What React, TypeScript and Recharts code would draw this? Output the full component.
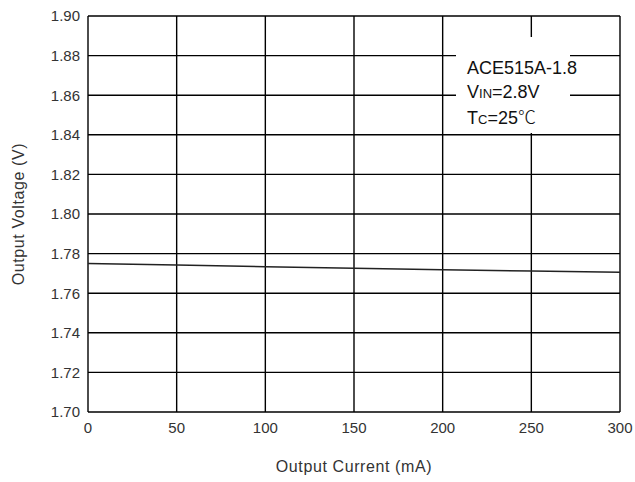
import React from "react";
import {
  LineChart,
  Line,
  XAxis,
  YAxis,
  CartesianGrid,
  Label,
} from "recharts";

const currents = [0, 50, 100, 150, 200, 250, 300];
const voltages = [1.775, 1.7742, 1.7734, 1.7726, 1.7718, 1.7712, 1.7706];
const xTicks = [0, 50, 100, 150, 200, 250, 300];
const yTicks = [1.7, 1.72, 1.74, 1.76, 1.78, 1.8, 1.82, 1.84, 1.86, 1.88, 1.9];
const noteLines = ["ACE515A-1.8", "VIN=2.8V", "TC=25℃"];

const data = currents.map((c, i) => ({ current: c, voltage: voltages[i] }));

const FONT = "'Liberation Sans', Arial, sans-serif";

export default function App() {
  return (
    <div style={{ position: "absolute", left: 0, top: 0, width: 635, height: 482, background: "#fff" }}>
      <LineChart
        width={635}
        height={482}
        data={data}
        margin={{ top: 16, right: 15, left: 28, bottom: 40 }}
      >
        <CartesianGrid stroke="#000" strokeWidth={1.4} fill="#fff" />
        <XAxis
          dataKey="current"
          type="number"
          domain={[0, 300]}
          ticks={xTicks}
          axisLine={false}
          tickLine={false}
          height={30}
          tickMargin={4}
          tick={{ fill: "#333", fontSize: 15, fontFamily: FONT }}
        >
          <Label
            value="Output Current (mA)"
            position="bottom"
            offset={19}
            style={{ fill: "#333", fontSize: 16, fontFamily: FONT, letterSpacing: 0.6 }}
          />
        </XAxis>
        <YAxis
          type="number"
          domain={[1.7, 1.9]}
          ticks={yTicks}
          axisLine={false}
          tickLine={false}
          width={60}
          tickMargin={2}
          tickFormatter={(v: number) => v.toFixed(2)}
          tick={{ fill: "#333", fontSize: 15, fontFamily: FONT }}
        >
          <Label
            value="Output Voltage (V)"
            angle={-90}
            position="left"
            offset={10}
            style={{ fill: "#333", fontSize: 16, fontFamily: FONT, letterSpacing: 0.6, textAnchor: "middle" }}
          />
        </YAxis>
        <Line
          dataKey="voltage"
          stroke="#222"
          strokeWidth={1.5}
          dot={false}
          isAnimationActive={false}
        />
      </LineChart>
      <div
        style={{
          position: "absolute",
          left: 456,
          top: 37,
          width: 114,
          height: 96,
          background: "#fff",
        }}
      />
      <div
        style={{
          position: "absolute",
          left: 467,
          top: 57,
          fontFamily: FONT,
          fontSize: 18,
          lineHeight: "23.5px",
          color: "#111",
          whiteSpace: "nowrap",
        }}
      >
        <div>{noteLines[0]}</div>
        <div>
          V<span style={{ fontSize: 13 }}>IN</span>
          {noteLines[1].slice(3)}
        </div>
        <div>
          T<span style={{ fontSize: 13 }}>C</span>
          {noteLines[2].slice(2, -1)}
          <span style={{ fontFamily: "'Noto Sans CJK SC', sans-serif", fontWeight: 300 }}>
            {noteLines[2].slice(-1)}
          </span>
        </div>
      </div>
    </div>
  );
}
